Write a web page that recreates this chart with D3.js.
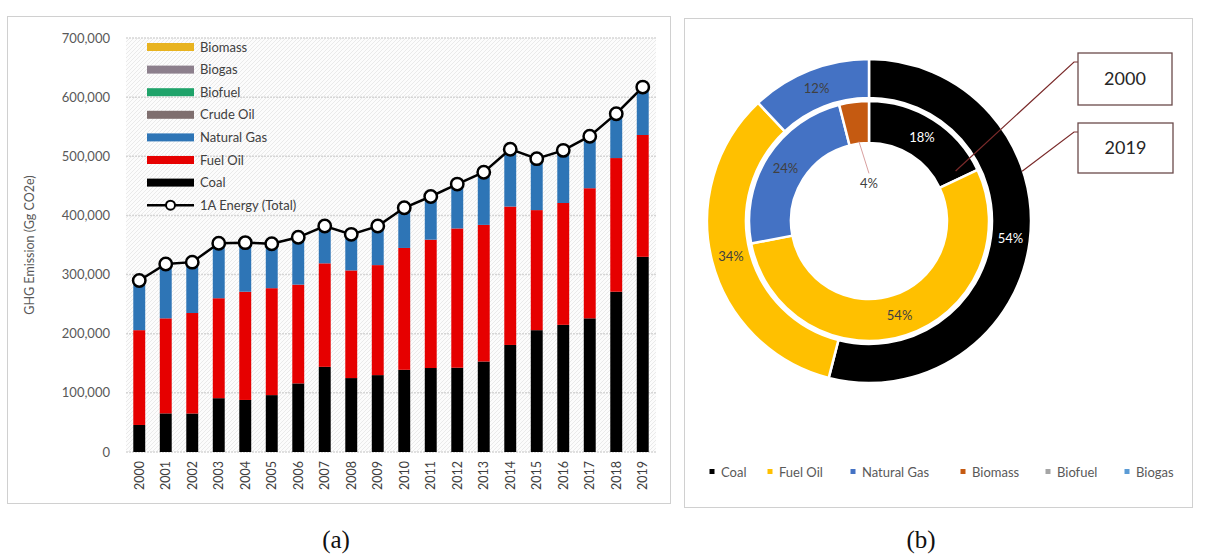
<!DOCTYPE html>
<html>
<head>
<meta charset="utf-8">
<script src="https://cdn.jsdelivr.net/npm/d3@7"></script>
<style>
  body { margin: 0; background: #fff; }
  svg { display: block; }
</style>
</head>
<body>
<svg id="chart" width="1208" height="555"></svg>
<script>
// ---------- data: GHG emissions from energy (Gg CO2e) ----------
const years = ["2000","2001","2002","2003","2004","2005","2006","2007","2008","2009",
               "2010","2011","2012","2013","2014","2015","2016","2017","2018","2019"];

const coal       = [45700, 65300, 65100, 91000, 88000, 96200, 116000, 144000, 125000, 130000,
                    139000, 142000, 142500, 153000, 181000, 206000, 215000, 226000, 271000, 330000];
const fuelOil    = [160300, 160700, 169900, 169000, 183000, 180800, 167000, 175000, 182000, 186000,
                    206000, 217000, 235500, 231000, 234000, 203000, 206000, 220000, 226000, 206000];
const naturalGas = [79700, 87700, 82000, 88800, 78700, 71000, 75700, 58500, 56700, 61300,
                    63100, 67900, 69800, 83500, 91300, 81300, 82900, 81800, 68600, 74300];
const crudeOil   = [1200, 1100, 1000, 900, 900, 800, 800, 700, 600, 600,
                    500, 500, 400, 400, 300, 300, 300, 200, 200, 200];
const biofuel    = [0, 0, 0, 0, 0, 0, 0, 200, 300, 400,
                    500, 600, 700, 800, 900, 1000, 1100, 1200, 1300, 1400];
const biogas     = [0, 0, 0, 0, 0, 0, 0, 0, 0, 0,
                    100, 100, 100, 200, 200, 200, 300, 300, 300, 300];
const biomass    = [3100, 3200, 3000, 3300, 3400, 3200, 3500, 3600, 3400, 3700,
                    3800, 3900, 4000, 4100, 4300, 4200, 4400, 4500, 4600, 4800];
const energyTotal = [290000, 318000, 321000, 353000, 354000, 352000, 363000, 382000, 368000, 382000,
                     413000, 432000, 453000, 473000, 512000, 496000, 510000, 534000, 572000, 617000];

const yTicks = [0, 100000, 200000, 300000, 400000, 500000, 600000, 700000];

// shares (%) of the two rings of the doughnut
const donutKeys  = ["Coal", "Fuel Oil", "Natural Gas", "Biomass", "Biofuel", "Biogas"];
const share2000  = [18, 54, 24, 4, 0, 0];
const share2019  = [54, 34, 12, 0, 0, 0];

// ---------- setup ----------
const svg = d3.select("#chart");
const FONT = "Lato, 'Open Sans', sans-serif";
const defs = svg.append("defs");

const hatch = defs.append("pattern")
  .attr("id", "hatch").attr("width", 4).attr("height", 4)
  .attr("patternUnits", "userSpaceOnUse");
hatch.append("rect").attr("width", 4).attr("height", 4).attr("fill", "#fcfcfc");
hatch.append("path").attr("d", "M0,4L4,0M-1,1L1,-1M3,5L5,3")
  .attr("stroke", "#e6e6e6").attr("stroke-width", 0.8);

// panel frames
svg.append("rect").attr("x", 7.5).attr("y", 16.5).attr("width", 663).attr("height", 487)
  .attr("fill", "#fff").attr("stroke", "#d0d0d0");
svg.append("rect").attr("x", 684.5).attr("y", 18.5).attr("width", 508).attr("height", 489)
  .attr("fill", "#fff").attr("stroke", "#d0d0d0");

// captions
svg.append("text").attr("x", 336).attr("y", 548).attr("text-anchor", "middle")
  .attr("font-family", "'Liberation Serif', serif").attr("font-size", 25).attr("fill", "#111")
  .text("(a)");
svg.append("text").attr("x", 921).attr("y", 548).attr("text-anchor", "middle")
  .attr("font-family", "'Liberation Serif', serif").attr("font-size", 25).attr("fill", "#111")
  .text("(b)");

// ---------- (a) stacked bars ----------
const plot = { left: 126, right: 656, top: 38, bottom: 452 };
const x = d3.scaleBand().domain(years).range([plot.left, plot.right])
  .paddingInner(0.55).paddingOuter(0.275);
const y = d3.scaleLinear().domain([0, 700000]).range([plot.bottom, plot.top]);

const barKeys = ["Coal", "Fuel Oil", "Natural Gas", "Crude Oil", "Biofuel", "Biogas", "Biomass"];
const barSeries = [coal, fuelOil, naturalGas, crudeOil, biofuel, biogas, biomass];
const barColor = d3.scaleOrdinal().domain(barKeys)
  .range(["#000000", "#e60000", "#2e75b6", "#7f6f6f", "#1fa36a", "#8c7f8c", "#e8b320"]);

const rows = years.map((yr, i) => {
  const r = { year: yr };
  barKeys.forEach((k, j) => r[k] = barSeries[j][i]);
  return r;
});
const stacked = d3.stack().keys(barKeys)(rows);

const gA = svg.append("g");
gA.append("rect").attr("x", plot.left).attr("y", plot.top)
  .attr("width", plot.right - plot.left).attr("height", plot.bottom - plot.top)
  .attr("fill", "url(#hatch)");

// gridlines
gA.selectAll("line.grid").data(yTicks).join("line")
  .attr("x1", plot.left).attr("x2", plot.right)
  .attr("y1", d => y(d)).attr("y2", d => y(d))
  .attr("stroke", "#d6d6d6").attr("stroke-width", 1.5).attr("stroke-dasharray", "2,1");

// y tick labels
gA.selectAll("text.ytick").data(yTicks).join("text")
  .attr("x", 110).attr("y", d => y(d)).attr("dy", "0.35em")
  .attr("text-anchor", "end").attr("font-family", FONT).attr("font-size", 13)
  .attr("fill", "#595959").text(d => d3.format(",")(d));

// y axis title
gA.append("text")
  .attr("transform", `translate(34,${(plot.top + plot.bottom) / 2}) rotate(-90)`)
  .attr("text-anchor", "middle").attr("font-family", FONT).attr("font-size", 12.5)
  .attr("fill", "#595959").text("GHG Emission (Gg CO2e)");

// bars
gA.selectAll("g.layer").data(stacked).join("g")
  .attr("fill", d => barColor(d.key))
  .selectAll("rect").data(d => d).join("rect")
  .attr("x", d => x(d.data.year)).attr("width", x.bandwidth())
  .attr("y", d => y(d[1])).attr("height", d => y(d[0]) - y(d[1]));

// x tick labels (rotated)
gA.selectAll("text.xtick").data(years).join("text")
  .attr("transform", d => `translate(${x(d) + x.bandwidth() / 2},461) rotate(-90)`)
  .attr("dy", "0.35em").attr("text-anchor", "end")
  .attr("font-family", FONT).attr("font-size", 12.5).attr("fill", "#404040")
  .text(d => d);

// total line with open circles
const cxYear = d => x(d) + x.bandwidth() / 2;
gA.append("path").datum(years)
  .attr("fill", "none").attr("stroke", "#000").attr("stroke-width", 2.5)
  .attr("d", d3.line().x(d => cxYear(d)).y((d, i) => y(energyTotal[i])));
gA.selectAll("circle.tot").data(years).join("circle")
  .attr("cx", d => cxYear(d)).attr("cy", (d, i) => y(energyTotal[i])).attr("r", 6.2)
  .attr("fill", "#fff").attr("stroke", "#000").attr("stroke-width", 2.5);

// legend (top-left of plot)
const legendA = barKeys.slice().reverse().concat(["1A Energy (Total)"]);
const lg = gA.append("g");
legendA.forEach((k, i) => {
  const ly = 47 + i * 22.6;
  if (k === "1A Energy (Total)") {
    lg.append("line").attr("x1", 147).attr("x2", 194).attr("y1", ly).attr("y2", ly)
      .attr("stroke", "#000").attr("stroke-width", 2.5);
    lg.append("circle").attr("cx", 170.5).attr("cy", ly).attr("r", 4.5)
      .attr("fill", "#fff").attr("stroke", "#000").attr("stroke-width", 2);
  } else {
    lg.append("rect").attr("x", 147).attr("y", ly - 4).attr("width", 47).attr("height", 8)
      .attr("fill", barColor(k));
  }
  lg.append("text").attr("x", 200).attr("y", ly).attr("dy", "0.35em")
    .attr("font-family", FONT).attr("font-size", 13).attr("fill", "#404040").text(k);
});

// ---------- (b) doughnut ----------
const dcx = 869, dcy = 221;
const donutColor = d3.scaleOrdinal().domain(donutKeys)
  .range(["#000000", "#ffc000", "#4472c4", "#c55a11", "#a5a5a5", "#5b9bd5"]);
const pie = d3.pie().sort(null).value(d => d.v);
const arcOuter = d3.arc().innerRadius(123).outerRadius(162);
const arcInner = d3.arc().innerRadius(78).outerRadius(120);

const gB = svg.append("g").attr("transform", `translate(${dcx},${dcy})`);
const rings = [
  { data: share2019, arc: arcOuter },
  { data: share2000, arc: arcInner }
];
rings.forEach(ring => {
  const slices = pie(donutKeys.map((k, i) => ({ k, v: ring.data[i] }))).filter(s => s.data.v > 0);
  gB.append("g").selectAll("path").data(slices).join("path")
    .attr("d", ring.arc).attr("fill", d => donutColor(d.data.k))
    .attr("stroke", "#fff").attr("stroke-width", 2.5);
  slices.forEach(s => {
    const pct = s.data.v + "%";
    if (s.data.v < 8) {
      // small slice: label pulled into the hole with a leader line
      const a = (s.startAngle + s.endAngle) / 2;
      const p0 = [Math.sin(a) * 80, -Math.cos(a) * 80];
      const p1 = [Math.sin(a) * 48 + 6, -Math.cos(a) * 48];
      gB.append("line").attr("x1", p0[0]).attr("y1", p0[1]).attr("x2", p1[0]).attr("y2", p1[1])
        .attr("stroke", "#d9a0a0").attr("stroke-width", 1);
      gB.append("text").attr("x", p1[0]).attr("y", p1[1] + 10).attr("dy", "0.35em")
        .attr("text-anchor", "middle").attr("font-family", FONT).attr("font-size", 13)
        .attr("fill", "#404040").text(pct);
    } else {
      const c = ring.arc.centroid(s);
      gB.append("text").attr("x", c[0]).attr("y", c[1]).attr("dy", "0.35em")
        .attr("text-anchor", "middle").attr("font-family", FONT).attr("font-size", 13)
        .attr("fill", s.data.k === "Coal" ? "#ffffff" : "#404040").text(pct);
    }
  });
});

// callout boxes naming the rings
const callouts = [
  { label: "2000", box: [1078, 53, 94, 52], arc: arcInner, angle: 60 * Math.PI / 180, r: 100 },
  { label: "2019", box: [1078, 123, 95, 50], arc: arcOuter, angle: 72 * Math.PI / 180, r: 161 }
];
callouts.forEach(c => {
  const [bx, by, bw, bh] = c.box;
  const tx = dcx + Math.sin(c.angle) * c.r, ty = dcy - Math.cos(c.angle) * c.r;
  svg.append("path")
    .attr("d", `M${bx},${by + 9}L${bx - 4},${by + 9}L${tx},${ty}`)
    .attr("fill", "none").attr("stroke", "#7a2a2a").attr("stroke-width", 1.2);
  svg.append("rect").attr("x", bx).attr("y", by).attr("width", bw).attr("height", bh)
    .attr("fill", "#fff").attr("stroke", "#6b4b4b").attr("stroke-width", 1.3);
  svg.append("text").attr("x", bx + bw / 2).attr("y", by + bh / 2).attr("dy", "0.35em")
    .attr("text-anchor", "middle").attr("font-family", FONT).attr("font-size", 18)
    .attr("fill", "#262626").text(c.label);
});

// doughnut legend
const legendBx = [712, 770, 853, 963, 1048, 1127];
donutKeys.forEach((k, i) => {
  svg.append("rect").attr("x", legendBx[i] - 2.5).attr("y", 469).attr("width", 5).attr("height", 5)
    .attr("fill", donutColor(k));
  svg.append("text").attr("x", legendBx[i] + 9).attr("y", 472).attr("dy", "0.35em")
    .attr("font-family", FONT).attr("font-size", 13).attr("fill", "#595959").text(k);
});
</script>
</body>
</html>
